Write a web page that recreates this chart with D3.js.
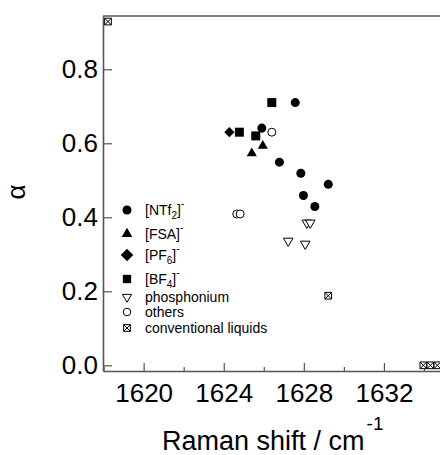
<!DOCTYPE html>
<html>
<head>
<meta charset="utf-8">
<script src="https://cdn.jsdelivr.net/npm/d3@7"></script>
<style>
  body { margin: 0; background: #fff; }
  svg { display: block; font-family: "Liberation Sans", Arial, sans-serif; }
</style>
</head>
<body>
<div id="container"></div>
<script>
/* CONSTANTS AND GLOBALS */
const width = 440, height = 455
const margin = { top: 16, right: 0, bottom: 84, left: 103 }

// DATA (Raman shift / cm-1, alpha)
const ntf2 = [[1627.57, 0.710], [1625.90, 0.641], [1626.78, 0.549], [1627.85, 0.519],
  [1629.22, 0.489], [1627.98, 0.459], [1628.55, 0.429]]
const fsa = [[1625.95, 0.593], [1625.40, 0.573]]
const pf6 = [[1624.28, 0.630]]
const bf4 = [[1626.40, 0.710], [1624.78, 0.630], [1625.60, 0.620]]
const phosphonium = [[1628.15, 0.385], [1628.32, 0.385], [1627.22, 0.336], [1628.07, 0.328]]
const others = [[1626.40, 0.630], [1624.65, 0.409], [1624.82, 0.409]]
const conventional = [[1618.22, 0.929], [1629.22, 0.188], [1633.97, 0.0], [1634.32, 0.0], [1634.67, 0.0]]

const xTicks = [1620, 1624, 1628, 1632]
const xMinorTicks = [1618, 1622, 1626, 1630, 1634]
const yTicks = [0.0, 0.2, 0.4, 0.6, 0.8]

// marker shapes
const diamond = { draw(ctx, size) { const r = Math.sqrt(size / 2); ctx.moveTo(0, -r); ctx.lineTo(r, 0); ctx.lineTo(0, r); ctx.lineTo(-r, 0); ctx.closePath() } }
const downTri = { draw(ctx, size) { const h = Math.sqrt(size / Math.sqrt(3)); ctx.moveTo(-h, -h * 0.577); ctx.lineTo(h, -h * 0.577); ctx.lineTo(0, h * 1.155); ctx.closePath() } }
const boxX = { draw(ctx, size) { const r = Math.sqrt(size) / 2; ctx.moveTo(-r, -r); ctx.lineTo(r, -r); ctx.lineTo(r, r); ctx.lineTo(-r, r); ctx.closePath(); ctx.moveTo(-r, -r); ctx.lineTo(r, r); ctx.moveTo(r, -r); ctx.lineTo(-r, r) } }

const series = [
  { data: ntf2, type: d3.symbolCircle, size: 64, fill: "#000", stroke: "none", lsize: 64 },
  { data: fsa, type: d3.symbolTriangle, size: 45, fill: "#000", stroke: "none", lsize: 50 },
  { data: pf6, type: diamond, size: 52, fill: "#000", stroke: "none", lsize: 78 },
  { data: bf4, type: d3.symbolSquare, size: 81, fill: "#000", stroke: "none", lsize: 70 },
  { data: phosphonium, type: downTri, size: 40, fill: "#fff", stroke: "#000", lsize: 36 },
  { data: others, type: d3.symbolCircle, size: 50, fill: "#fff", stroke: "#000", lsize: 45 },
  { data: conventional, type: boxX, size: 45, fill: "#fff", stroke: "#000", lsize: 45 }
]

/* SCALES */
const xScale = d3.scaleLinear()
  .domain([1617.97, 1634.8])
  .range([margin.left, width - margin.right])

const yScale = d3.scaleLinear()
  .domain([-0.0154, 0.944])
  .range([height - margin.bottom, margin.top])

/* SVG */
const svg = d3.select("#container")
  .append("svg")
  .attr("width", width)
  .attr("height", height)

const axisColor = "#555"

// x axis (ticks point inward)
svg.append("g")
  .attr("transform", `translate(0, ${height - margin.bottom})`)
  .call(d3.axisBottom(xScale).tickValues(xTicks).tickFormat(d3.format("d"))
    .tickSizeInner(-8).tickSizeOuter(0).tickPadding(13))
svg.append("g")
  .attr("transform", `translate(0, ${height - margin.bottom})`)
  .call(d3.axisBottom(xScale).tickValues(xMinorTicks).tickFormat("")
    .tickSizeInner(-4).tickSizeOuter(0))
  .call(g => g.select(".domain").remove())

svg.append("g")
  .attr("transform", `translate(${margin.left}, 0)`)
  .call(d3.axisLeft(yScale).tickValues(yTicks).tickFormat(d3.format(".1f"))
    .tickSizeInner(-9).tickSizeOuter(0).tickPadding(5))

svg.selectAll(".tick text")
  .attr("font-size", 26)
  .attr("font-family", "Liberation Sans, Arial, sans-serif")
  .attr("fill", "#000")
svg.selectAll(".tick line").attr("stroke", axisColor).attr("stroke-width", 1.2)
svg.selectAll(".domain").attr("stroke", axisColor).attr("stroke-width", 1.6)

// top frame line
svg.append("line")
  .attr("x1", margin.left).attr("x2", width)
  .attr("y1", margin.top).attr("y2", margin.top)
  .attr("stroke", axisColor).attr("stroke-width", 1.6)

// axis titles
const xTitle = svg.append("text")
  .attr("x", 162).attr("y", 450)
  .attr("font-size", 27)
  .attr("fill", "#000")
xTitle.append("tspan").text("Raman shift / cm")
xTitle.append("tspan").attr("dy", -20).attr("dx", 2).attr("font-size", 19).text("-1")

svg.append("text")
  .attr("transform", `translate(25, 192) rotate(-90)`)
  .attr("text-anchor", "middle")
  .attr("font-size", 26)
  .attr("fill", "#000")
  .text("α")

// POINTS
series.forEach(s => {
  svg.append("g")
    .selectAll("path")
    .data(s.data)
    .join("path")
    .attr("transform", d => `translate(${xScale(d[0])}, ${yScale(d[1])})`)
    .attr("d", d3.symbol().type(s.type).size(s.size))
    .attr("fill", s.fill)
    .attr("stroke", s.stroke)
    .attr("stroke-width", 1)
})

// LEGEND
const legendRows = [
  { y: 210, label: ["[NTf", "2", "]", "-"] },
  { y: 234, label: ["[FSA]", "", "", "-"] },
  { y: 255, label: ["[PF", "6", "]", "-"] },
  { y: 279, label: ["[BF", "4", "]", "-"] },
  { y: 297, label: ["phosphonium"] },
  { y: 312, label: ["others"] },
  { y: 328, label: ["conventional liquids"] }
]
legendRows.forEach((row, i) => {
  const s = series[i]
  svg.append("path")
    .attr("transform", `translate(127, ${row.y})`)
    .attr("d", d3.symbol().type(s.type).size(s.lsize))
    .attr("fill", s.fill)
    .attr("stroke", s.stroke)
    .attr("stroke-width", 1)
  const t = svg.append("text")
    .attr("x", 145).attr("y", row.y + 5)
    .attr("font-size", 14)
    .attr("fill", "#000")
  t.append("tspan").text(row.label[0])
  if (row.label.length > 1) {
    if (row.label[1]) t.append("tspan").attr("dy", 4).attr("font-size", 10).text(row.label[1])
    t.append("tspan").attr("dy", row.label[1] ? -4 : 0).text(row.label[2])
    t.append("tspan").attr("dy", -8).attr("font-size", 10).text(row.label[3])
  }
})
</script>
</body>
</html>
